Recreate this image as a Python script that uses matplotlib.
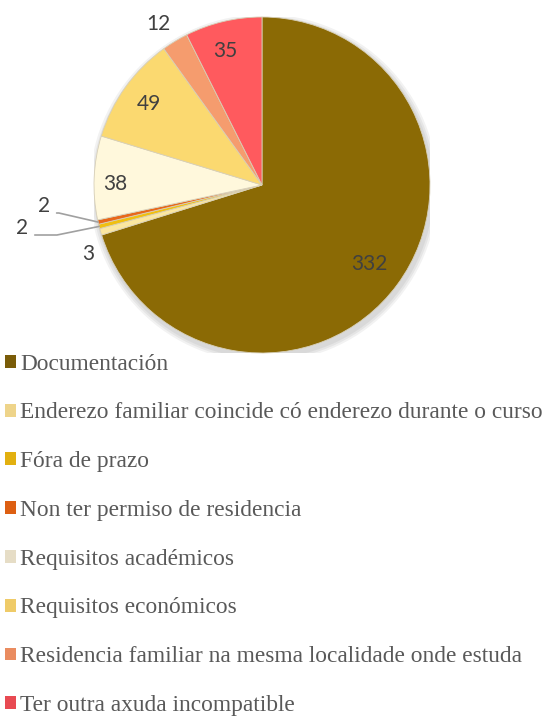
import numpy as np
import matplotlib.pyplot as plt
from matplotlib.patches import Patch

categorias = ['Documentación',
              'Enderezo familiar coincide có enderezo durante o curso',
              'Fóra de prazo',
              'Non ter permiso de residencia',
              'Requisitos académicos',
              'Requisitos económicos',
              'Residencia familiar na mesma localidade onde estuda',
              'Ter outra axuda incompatible']
valores = [332, 3, 2, 2, 38, 49, 12, 35]
cores = ['#8B6A05', '#FBE7A0', '#F0C010', '#E8681A', '#FFF8DC', '#FBD970', '#F59C6E', '#FF5A5E']
cores_lenda = ['#7A5C08', '#EED48A', '#E2B010', '#DD5F12', '#E6DDC6', '#EFCB68', '#EA8C60', '#E84A52']

W, H = 548, 716
fig = plt.figure(figsize=(W / 100, H / 100), dpi=100)
cx, cy, r = 262, 185, 168
ax = fig.add_axes([(cx - r) / W, 1 - (cy + r) / H, 2 * r / W, 2 * r / H])

# sombra suave
for k in range(3):
    ax.add_patch(plt.Circle((0.01, -0.02), 1.0 + 0.012 * (k + 1), color='black', alpha=0.05, lw=0, zorder=0))

wedges, _ = ax.pie(valores, colors=cores, startangle=90, counterclock=False, radius=1,
                   wedgeprops=dict(edgecolor='#D8D0B8', linewidth=0.6))
for w in wedges:
    w.set_zorder(2)

# etiquetas
fator = [0.79, 1.11, None, None, 0.875, 0.83, 1.14, 0.83]
axuste = [0, 5.5, 0, 0, 2, 0, 1.5, 2]
for w, v, f, da in zip(wedges, valores, fator, axuste):
    if f is None:
        continue
    ang = np.deg2rad((w.theta1 + w.theta2) / 2 + da)
    ax.text(f * np.cos(ang), f * np.sin(ang), str(v), ha='center', va='center',
            fontsize=15, color='#404040', family='Lato', zorder=5)

# etiquetas pequenas con liña guía
guia = {3: ((-1.30, -0.125), 167), 2: ((-1.43, -0.256), 11.5)}
for i, ((tx, ty), angb) in guia.items():
    w = wedges[i]
    ang = np.deg2rad((w.theta1 + w.theta2) / 2)
    ax.annotate(str(valores[i]), xy=(np.cos(ang), np.sin(ang)), xytext=(tx, ty),
                ha='center', va='center', fontsize=15, color='#404040', family='Lato',
                arrowprops=dict(arrowstyle='-', color='#A0A0A0', lw=1.2, shrinkA=3, shrinkB=0,
                                relpos=(1.0, 0.15),
                                connectionstyle=f'angle,angleA=0,angleB={angb},rad=0'),
                annotation_clip=False, zorder=5)

ax.set_xlim(-1, 1)
ax.set_ylim(-1, 1)
ax.set_aspect('equal')
ax.axis('off')

manexos = [Patch(facecolor=c, edgecolor='none') for c in cores_lenda]
fig.legend(manexos, categorias, loc='upper left', bbox_to_anchor=(0.0, 1 - 349 / H),
           frameon=False, prop=dict(family='Liberation Serif', size=16.8),
           labelcolor='#595959', handlelength=0.47, handleheight=0.47, handletextpad=0.2,
           labelspacing=1.19, borderaxespad=0, borderpad=0.2)

fig.savefig('out.png', dpi=100)
